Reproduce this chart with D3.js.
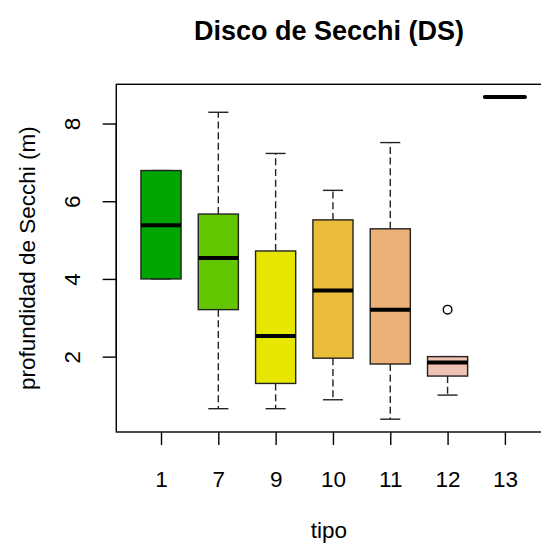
<!DOCTYPE html>
<html>
<head>
<meta charset="utf-8">
<script src="https://cdn.jsdelivr.net/npm/d3@7"></script>
<style>
  body { margin: 0; background: #fff; }
  svg { display: block; font-family: "Liberation Sans", Arial, sans-serif; }
</style>
</head>
<body>
<svg id="chart" width="541" height="546"></svg>
<script>
// box statistics, one entry per tipo
const categories  = ["1", "7", "9", "10", "11", "12", "13"];
const whiskerLow  = [4.00, 0.66, 0.66, 0.89, 0.39, 1.01, 8.68];
const q1          = [4.00, 3.21, 1.31, 1.96, 1.81, 1.50, 8.68];
const medians     = [5.38, 4.54, 2.53, 3.70, 3.21, 1.85, 8.68];
const q3          = [6.79, 5.67, 4.72, 5.52, 5.29, 2.00, 8.68];
const whiskerHigh = [6.79, 8.29, 7.23, 6.28, 7.51, 2.00, 8.68];
const outlierCat  = ["12"];
const outlierVal  = [3.21];
const fills = ["#00A600", "#63C600", "#E6E600", "#E9BD3A", "#ECB176", "#EFC2B3", "#F2F2F2"];
const yTicks = [2, 4, 6, 8];

const plot = { left: 116.3, right: 549.6, top: 84.3, bottom: 432 };
const boxHalf = 0.35, capHalf = 0.175;

const boxes = categories.map((c, i) => ({
    cat: c, pos: i + 1,
    lo: whiskerLow[i], q1: q1[i], med: medians[i], q3: q3[i], hi: whiskerHigh[i],
    fill: fills[i]
}));

const svg = d3.select("#chart");

const x = d3.scaleLinear().domain([0.22, 7.78]).range([plot.left, plot.right]);
const y = d3.scaleLinear().domain([0.06, 9.01]).range([plot.bottom, plot.top]);

// title
svg.append("text")
    .attr("x", (plot.left + plot.right) / 2 - 4)
    .attr("y", 40)
    .attr("text-anchor", "middle")
    .style("font-weight", "bold")
    .style("font-size", "27px")
    .text("Disco de Secchi (DS)");

const g = svg.append("g");

// whiskers (dashed)
g.selectAll("line.wlo")
    .data(boxes)
    .enter()
    .append("line")
    .attr("x1", d => x(d.pos)).attr("x2", d => x(d.pos))
    .attr("y1", d => y(d.q1)).attr("y2", d => y(d.lo))
    .style("stroke", "#222").style("stroke-width", 1.4)
    .style("stroke-dasharray", "7,3.7");

g.selectAll("line.whi")
    .data(boxes)
    .enter()
    .append("line")
    .attr("x1", d => x(d.pos)).attr("x2", d => x(d.pos))
    .attr("y1", d => y(d.q3)).attr("y2", d => y(d.hi))
    .style("stroke", "#222").style("stroke-width", 1.4)
    .style("stroke-dasharray", "7,3.7");

// caps
["lo", "hi"].forEach(k => {
    g.selectAll("line.cap" + k)
        .data(boxes.filter(d => d.q1 !== d.q3))
        .enter()
        .append("line")
        .attr("x1", d => x(d.pos - capHalf)).attr("x2", d => x(d.pos + capHalf))
        .attr("y1", d => y(d[k])).attr("y2", d => y(d[k]))
        .style("stroke", "#222").style("stroke-width", 1.4);
});

// boxes
g.selectAll("rect")
    .data(boxes.filter(d => d.q1 !== d.q3))
    .enter()
    .append("rect")
    .attr("x", d => x(d.pos - boxHalf))
    .attr("width", d => x(d.pos + boxHalf) - x(d.pos - boxHalf))
    .attr("y", d => y(d.q3))
    .attr("height", d => y(d.q1) - y(d.q3))
    .style("fill", d => d.fill)
    .style("stroke", "#222").style("stroke-width", 1.4);

// medians
g.selectAll("line.med")
    .data(boxes)
    .enter()
    .append("line")
    .attr("x1", d => x(d.pos - boxHalf)).attr("x2", d => x(d.pos + boxHalf))
    .attr("y1", d => y(d.med)).attr("y2", d => y(d.med))
    .style("stroke", "#000").style("stroke-width", 4)
    .style("stroke-linecap", d => d.q1 === d.q3 ? "round" : "butt");

// outliers
g.selectAll("circle")
    .data(outlierCat.map((c, i) => ({ pos: categories.indexOf(c) + 1, v: outlierVal[i] })))
    .enter()
    .append("circle")
    .attr("cx", d => x(d.pos)).attr("cy", d => y(d.v))
    .attr("r", 4.3)
    .style("fill", "none").style("stroke", "#000").style("stroke-width", 1.4);

// frame
svg.append("rect")
    .attr("x", plot.left).attr("y", plot.top)
    .attr("width", plot.right - plot.left).attr("height", plot.bottom - plot.top)
    .style("fill", "none").style("stroke", "#000").style("stroke-width", 1.4);

// y axis
const yAxis = svg.append("g")
    .attr("transform", `translate(${plot.left},0)`)
    .call(d3.axisLeft(y).tickValues(yTicks).tickSize(13.6).tickFormat(d3.format("d")));
yAxis.select(".domain").remove();
yAxis.append("line")
    .attr("y1", y(yTicks[0])).attr("y2", y(yTicks[yTicks.length - 1]))
    .style("stroke", "#000").style("stroke-width", 1.4);
yAxis.selectAll(".tick line").style("stroke-width", 1.4);
yAxis.selectAll(".tick text")
    .attr("x", null).attr("dy", null)
    .attr("transform", "translate(-36.3,0) rotate(-90)")
    .attr("text-anchor", "middle")
    .style("font-size", "22.5px").style("fill", "#000")
    .style("font-family", "'Liberation Sans', Arial, sans-serif");

// x axis
const xAxis = svg.append("g")
    .attr("transform", `translate(0,${plot.bottom})`)
    .call(d3.axisBottom(x).tickValues(boxes.map(d => d.pos)).tickSize(13)
        .tickFormat(d => categories[d - 1]));
xAxis.select(".domain").remove();
xAxis.selectAll(".tick line").style("stroke-width", 1.4);
xAxis.selectAll(".tick text")
    .attr("y", 54.7).attr("dy", null)
    .style("font-size", "22.5px").style("fill", "#000")
    .style("font-family", "'Liberation Sans', Arial, sans-serif");

// axis titles
svg.append("text")
    .attr("x", (plot.left + plot.right) / 2 - 4)
    .attr("y", 538)
    .attr("text-anchor", "middle")
    .style("font-size", "22.5px")
    .text("tipo");

svg.append("text")
    .attr("transform", `translate(35,${(plot.top + plot.bottom) / 2}) rotate(-90)`)
    .attr("text-anchor", "middle")
    .style("font-size", "22.5px")
    .text("profundidad de Secchi (m)");
</script>
</body>
</html>
